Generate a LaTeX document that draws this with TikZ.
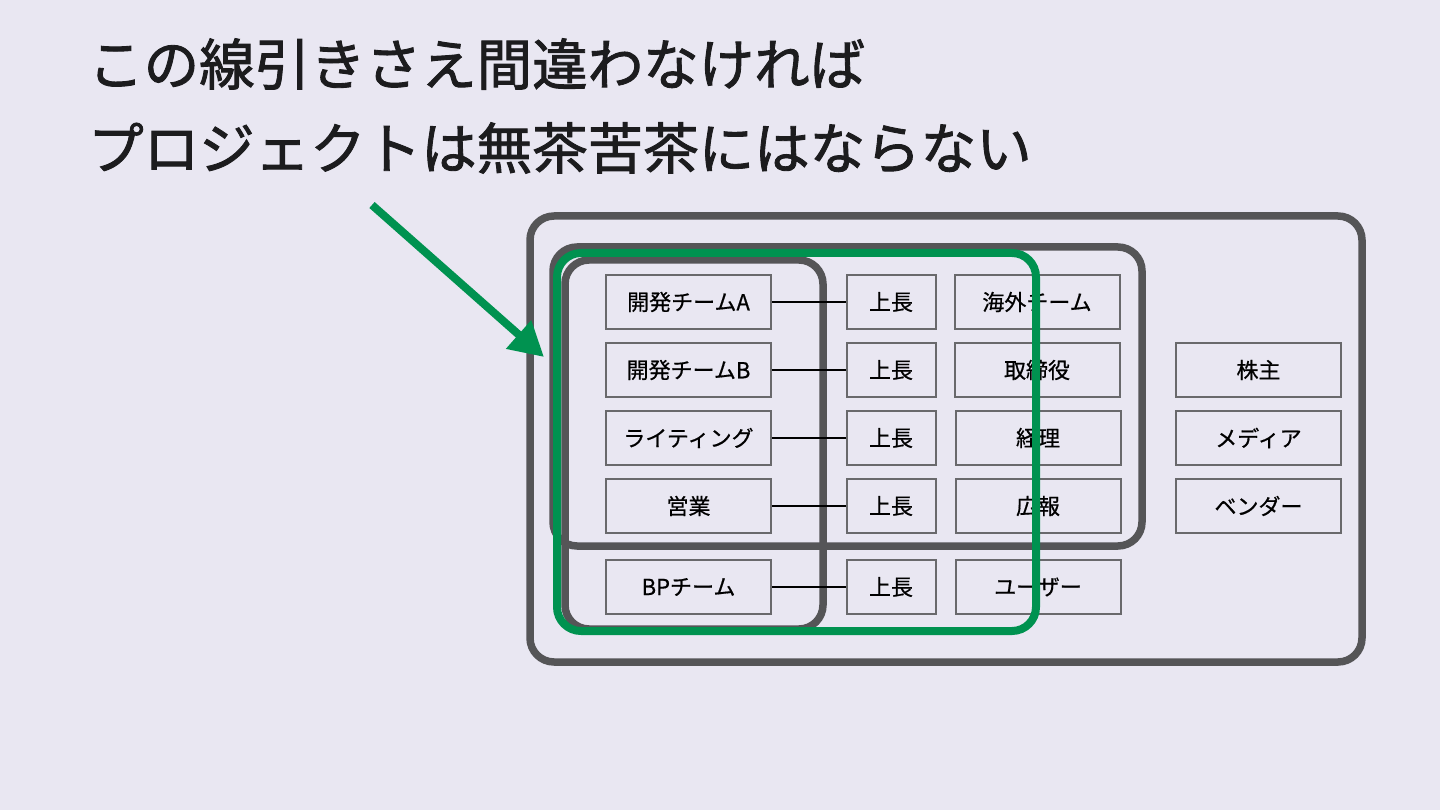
\documentclass[tikz,border=0pt]{standalone}
\usepackage{fontspec}
\newfontfamily\jp[FakeBold=0.6]{Noto Sans CJK JP}
\newfontfamily\jphead[FakeBold=1.6]{Noto Sans CJK JP}
\usetikzlibrary{arrows.meta}
\definecolor{paper}{RGB}{233,231,242}
\definecolor{frame}{RGB}{85,85,87}
\definecolor{boxline}{RGB}{105,105,108}
\definecolor{chalk}{RGB}{0,146,80}
\definecolor{ink}{RGB}{28,28,30}
\tikzset{
  unit/.style={draw=boxline,line width=2pt,fill=paper,minimum width=165pt,minimum height=54pt,inner sep=0pt,font=\jp\fontsize{22}{26}\selectfont},
  boss/.style={unit,minimum width=89pt},
  frm/.style={draw=frame,line width=7.5pt,rounded corners=24pt},
  link/.style={draw=black,line width=1.6pt},
  headline/.style={anchor=west,inner sep=0pt,text=ink,font=\jphead\fontsize{55.5}{60}\selectfont},
  pointer/.style={draw=chalk,line width=8pt,-{Triangle[length=34pt,width=36pt]}},
  scope/.style={draw=chalk,line width=8pt,rounded corners=24pt}
}
\begin{document}
\begin{tikzpicture}[x=1pt,y=-1pt]
\fill[paper] (0,0) rectangle (1440,810);
\useasboundingbox (0,0) rectangle (1440,810);
% title
\node[headline] (line1) at (88,64) {この線引きさえ間違わなければ};
\node[headline] (line2) at (88,148) {プロジェクトは無茶苦茶にはならない};
% frames
\draw[frm] (530,216) rectangle (1362,662);
\draw[frm] (553,247) rectangle (1142,546);
\draw[frm] (565,260) rectangle (823,629);
% teams and their bosses
\foreach \name/\txt/\y/\i in {devA/開発チームA/302/1,devB/開発チームB/370/2,writing/ライティング/438/3,sales/営業/506/4,bpteam/BPチーム/587/5} {
  \node[unit] (\name) at (688.5,\y) {\txt};
  \node[boss] (boss\i) at (891,\y) {上長};
  \draw[link] (\name.east) -- (boss\i.west);
}
\node[unit] (overseas) at (1037,302) {海外チーム};
\node[unit] (board) at (1037,370) {取締役};
\node[unit] (accounting) at (1038,438) {経理};
\node[unit] (pr) at (1038,506) {広報};
\node[unit] (user) at (1038,587) {ユーザー};
\node[unit] (holder) at (1258.5,370) {株主};
\node[unit] (media) at (1258.5,438) {メディア};
\node[unit] (vendor) at (1258.5,506) {ベンダー};
% hand drawn line
\draw[scope] (557,253) rectangle (1036,631);
\coordinate (tail) at (372,205);
\coordinate (tip) at (544,357);
\draw[pointer] (tail) -- (tip);
\end{tikzpicture}
\end{document}
